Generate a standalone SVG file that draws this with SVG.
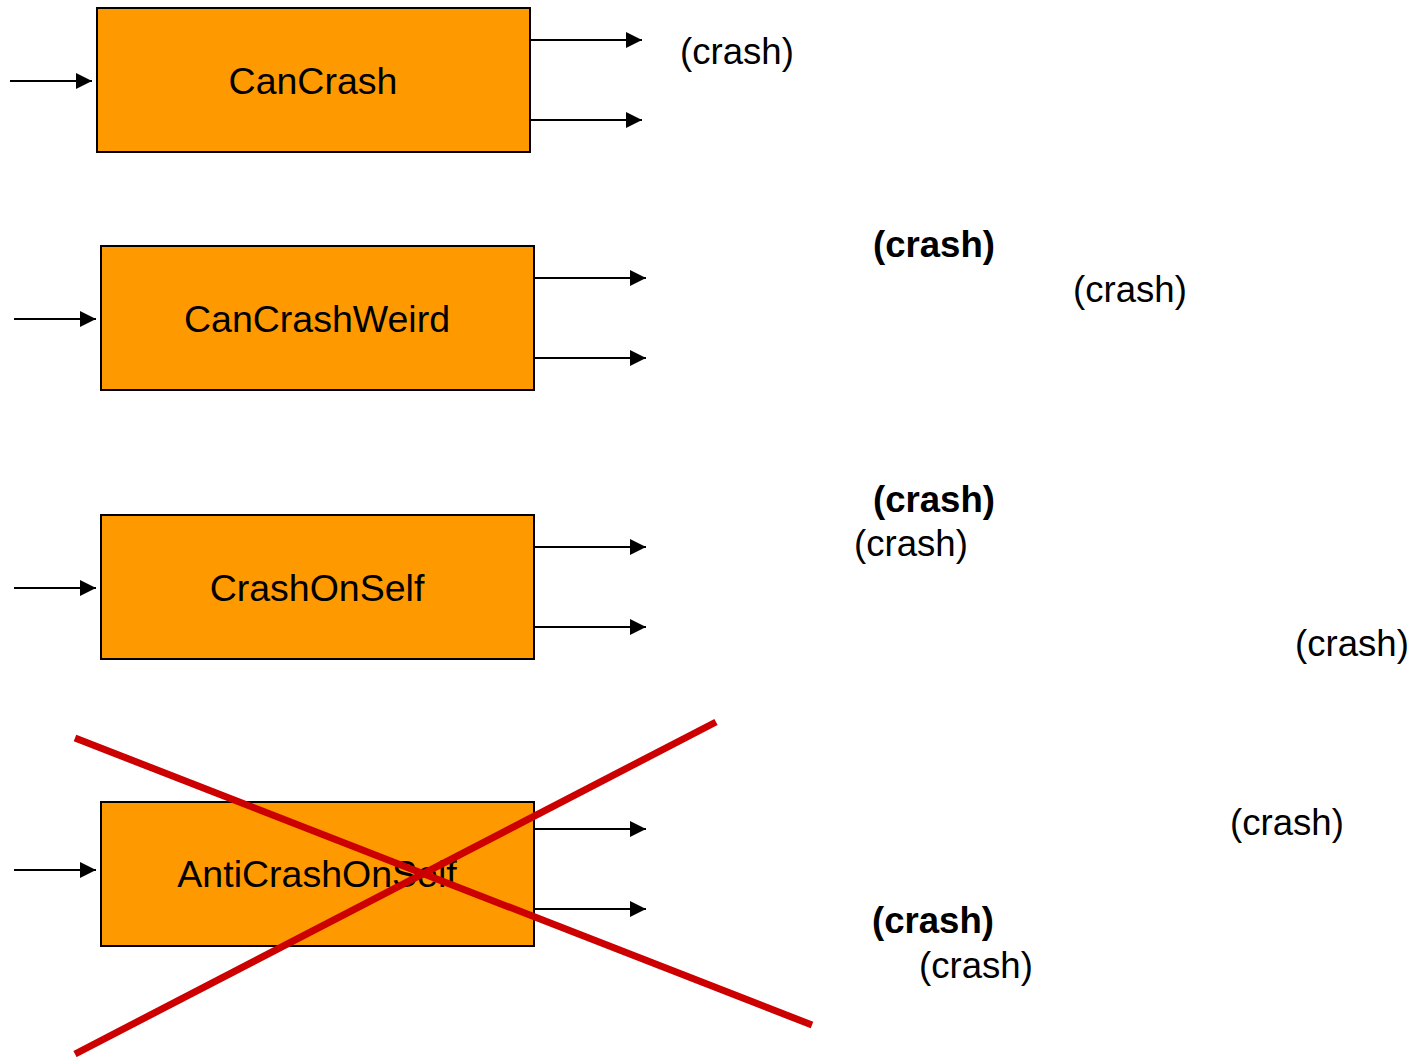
<svg xmlns="http://www.w3.org/2000/svg" width="1418" height="1057" viewBox="0 0 1418 1057">
<style>
.box{fill:#FF9900;stroke:#000;stroke-width:2}
.lbl{font-family:"Liberation Sans",Arial,sans-serif;font-size:37.5px;fill:#000;text-anchor:middle}
.t{font-family:"Liberation Sans",Arial,sans-serif;font-size:36.6px;fill:#000}
.b{font-weight:bold}
.c{stroke:#000;stroke-width:2;fill:none;marker-end:url(#ah)}
.x{stroke:#CC0000;stroke-width:7;fill:none}
</style>
<defs>
<marker id="ah" markerWidth="8" markerHeight="8" refX="8" refY="4" orient="auto" markerUnits="strokeWidth">
<path d="M0,0 L8,4 L0,8 Z" fill="#000"/>
</marker>
</defs>
<g id="node-cancrash">
<rect class="box" x="97" y="8" width="433" height="144"/>
<text class="lbl" x="313" y="94">CanCrash</text>
</g>
<g id="node-cancrashweird">
<rect class="box" x="101" y="246" width="433" height="144"/>
<text class="lbl" x="317" y="332">CanCrashWeird</text>
</g>
<g id="node-crashonself">
<rect class="box" x="101" y="515" width="433" height="144"/>
<text class="lbl" x="317" y="601">CrashOnSelf</text>
</g>
<g id="node-anticrashonself">
<rect class="box" x="101" y="802" width="433" height="144"/>
<text class="lbl" x="317" y="887">AntiCrashOnSelf</text>
</g>
<g id="connectors">
<line class="c" x1="10" y1="81" x2="92" y2="81"/>
<line class="c" x1="530" y1="40" x2="642" y2="40"/>
<line class="c" x1="530" y1="120" x2="642" y2="120"/>
<line class="c" x1="14" y1="319" x2="96" y2="319"/>
<line class="c" x1="534" y1="278" x2="646" y2="278"/>
<line class="c" x1="534" y1="358" x2="646" y2="358"/>
<line class="c" x1="14" y1="588" x2="96" y2="588"/>
<line class="c" x1="534" y1="547" x2="646" y2="547"/>
<line class="c" x1="534" y1="627" x2="646" y2="627"/>
<line class="c" x1="14" y1="870" x2="96" y2="870"/>
<line class="c" x1="534" y1="829" x2="646" y2="829"/>
<line class="c" x1="534" y1="909" x2="646" y2="909"/>
</g>
<g id="labels">
<text class="t" x="680" y="64">(crash)</text>
<text class="t b" x="873" y="257">(crash)</text>
<text class="t" x="1073" y="302">(crash)</text>
<text class="t b" x="873" y="512">(crash)</text>
<text class="t" x="854" y="556">(crash)</text>
<text class="t" x="1295" y="656">(crash)</text>
<text class="t" x="1230" y="835">(crash)</text>
<text class="t b" x="872" y="933">(crash)</text>
<text class="t" x="919" y="978">(crash)</text>
</g>
<g id="cross">
<line class="x" x1="75" y1="738" x2="812" y2="1025"/>
<line class="x" x1="75" y1="1054" x2="716" y2="722"/>
</g>
</svg>
